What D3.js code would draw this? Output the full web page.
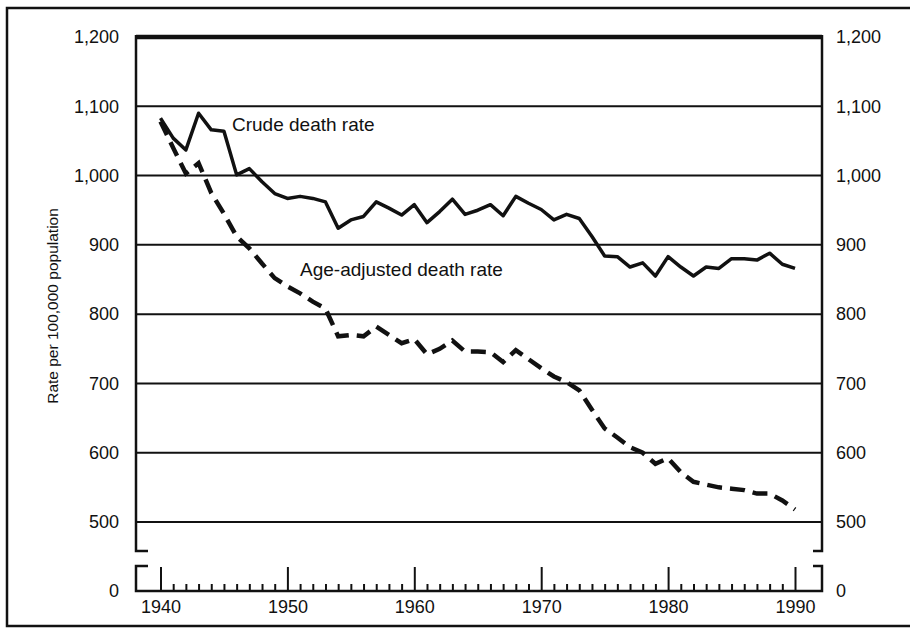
<!DOCTYPE html>
<meta charset="utf-8">
<head>
<title>Death rates 1940-1990</title>
<script src="https://cdn.jsdelivr.net/npm/d3@7"></script>
<style>
  body { margin: 0; background: #fff; }
  svg text { font-family: "Liberation Sans", Arial, Helvetica, sans-serif; fill: #111; }
  .tick text { font-size: 18px; }
</style>
</head>
<body>
<div id="chart"></div>
<script>
// data
var years = d3.range(1940, 1991);
var crudeRate = [1083, 1054, 1037, 1090, 1066, 1064, 1001, 1010, 991, 974,
                 967, 970, 967, 962, 924, 936, 941, 962, 953, 943,
                 958, 932, 948, 966, 944, 950, 958, 942, 970, 960,
                 951, 936, 944, 938, 912, 884, 883, 868, 874, 855,
                 883, 868, 855, 868, 866, 880, 880, 878, 888, 872, 866];
var ageAdjRate = [1078, 1040, 1003, 1018, 975, 945, 912, 895, 873, 852,
                  840, 830, 818, 808, 768, 770, 768, 782, 770, 758,
                  764, 742, 750, 762, 746, 746, 745, 731, 748, 735,
                  722, 710, 702, 690, 662, 635, 622, 608, 600, 584,
                  592, 572, 558, 554, 550, 548, 546, 541, 541, 531, 518];
var yTicks = [500, 600, 700, 800, 900, 1000, 1100, 1200];
var yTitle = "Rate per 100,000 population";
var crudeLabel = "Crude death rate";
var ageLabel = "Age-adjusted death rate";

var W = 910, H = 629;
var plotLeft = 136, plotRight = 822, plotTop = 37, axisY = 591;

var svg = d3.select("#chart").append("svg")
    .attr("width", W).attr("height", H);

// outer frame (right edge runs off the picture)
svg.append("rect")
    .attr("x", 7).attr("y", 8).attr("width", 920).attr("height", 618)
    .attr("fill", "none").attr("stroke", "#111").attr("stroke-width", 2.5);

var x = d3.scaleLinear().domain([1940, 1990]).range([160.5, 795]);
var y = d3.scaleLinear().domain([500, 1200]).range([522, plotTop]);

// gridlines
svg.append("g").selectAll("line")
    .data(yTicks)
    .enter().append("line")
    .attr("x1", plotLeft).attr("x2", plotRight)
    .attr("y1", function(d){ return y(d); })
    .attr("y2", function(d){ return y(d); })
    .attr("stroke", "#111")
    .attr("stroke-width", function(d){ return d == 1200 ? 4.5 : 2; });

// left / right axes with labels
var yAxisL = d3.axisLeft(y).tickValues(yTicks).tickSize(0).tickPadding(17)
    .tickFormat(d3.format(","));
var yAxisR = d3.axisRight(y).tickValues(yTicks).tickSize(0).tickPadding(14)
    .tickFormat(d3.format(","));
svg.append("g").attr("transform", "translate(" + plotLeft + ",0)").call(yAxisL)
    .call(function(g){ g.select(".domain").remove(); });
svg.append("g").attr("transform", "translate(" + plotRight + ",0)").call(yAxisR)
    .call(function(g){ g.select(".domain").remove(); });

// broken axis segments
var breakTop = 551, breakLow = 566;
function seg(d) {
  svg.append("path").attr("d", d)
      .attr("stroke", "#111").attr("stroke-width", 2.5).attr("fill", "none");
}
seg("M" + plotLeft + "," + (plotTop - 2) + "V" + breakTop + "H" + (plotLeft + 12));
seg("M" + (plotLeft + 12) + "," + breakLow + "H" + plotLeft + "V" + axisY + "H" + plotRight + "V" + breakLow + "H" + (plotRight - 9));
seg("M" + (plotRight - 9) + "," + breakTop + "H" + plotRight + "V" + (plotTop - 2));

// zero labels on the lower segment
var yLow = d3.scaleLinear().domain([0, 1]).range([axisY, breakLow]);
svg.append("g").attr("transform", "translate(" + plotLeft + ",0)")
    .call(d3.axisLeft(yLow).tickValues([0]).tickSize(0).tickPadding(17).tickFormat(d3.format("d")))
    .call(function(g){ g.select(".domain").remove(); });
svg.append("g").attr("transform", "translate(" + plotRight + ",0)")
    .call(d3.axisRight(yLow).tickValues([0]).tickSize(0).tickPadding(14).tickFormat(d3.format("d")))
    .call(function(g){ g.select(".domain").remove(); });

// x axis: yearly ticks, taller at decades
var xAxis = d3.axisBottom(x).tickValues(years).tickSizeOuter(0)
    .tickSizeInner(0).tickPadding(9)
    .tickFormat(function(d){ return d % 10 == 0 ? d : ""; });
var gx = svg.append("g").attr("transform", "translate(0," + axisY + ")").call(xAxis);
gx.select(".domain").remove();
gx.selectAll(".tick line")
    .attr("y1", 0)
    .attr("y2", function(d){ return d % 10 == 0 ? -24 : -7; })
    .attr("stroke", "#111").attr("stroke-width", 2);

// y axis title
svg.append("text")
    .attr("transform", "translate(58,306) rotate(-90)")
    .attr("text-anchor", "middle")
    .style("font-size", "15.5px")
    .text(yTitle);

// series
var line = d3.line()
    .x(function(d, i){ return x(years[i]); })
    .y(function(d){ return y(d); });

svg.append("path")
    .datum(ageAdjRate)
    .attr("d", line)
    .attr("fill", "none").attr("stroke", "#111")
    .attr("stroke-width", 4.5)
    .attr("stroke-dasharray", "15,8");

svg.append("path")
    .datum(crudeRate)
    .attr("d", line)
    .attr("fill", "none").attr("stroke", "#111")
    .attr("stroke-width", 3.5)
    .attr("stroke-linejoin", "round");

// annotations
svg.append("text").attr("x", 232).attr("y", 131)
    .style("font-size", "19px").text(crudeLabel);
svg.append("text").attr("x", 300).attr("y", 276)
    .style("font-size", "19px").text(ageLabel);
</script>
</body>
</html>
